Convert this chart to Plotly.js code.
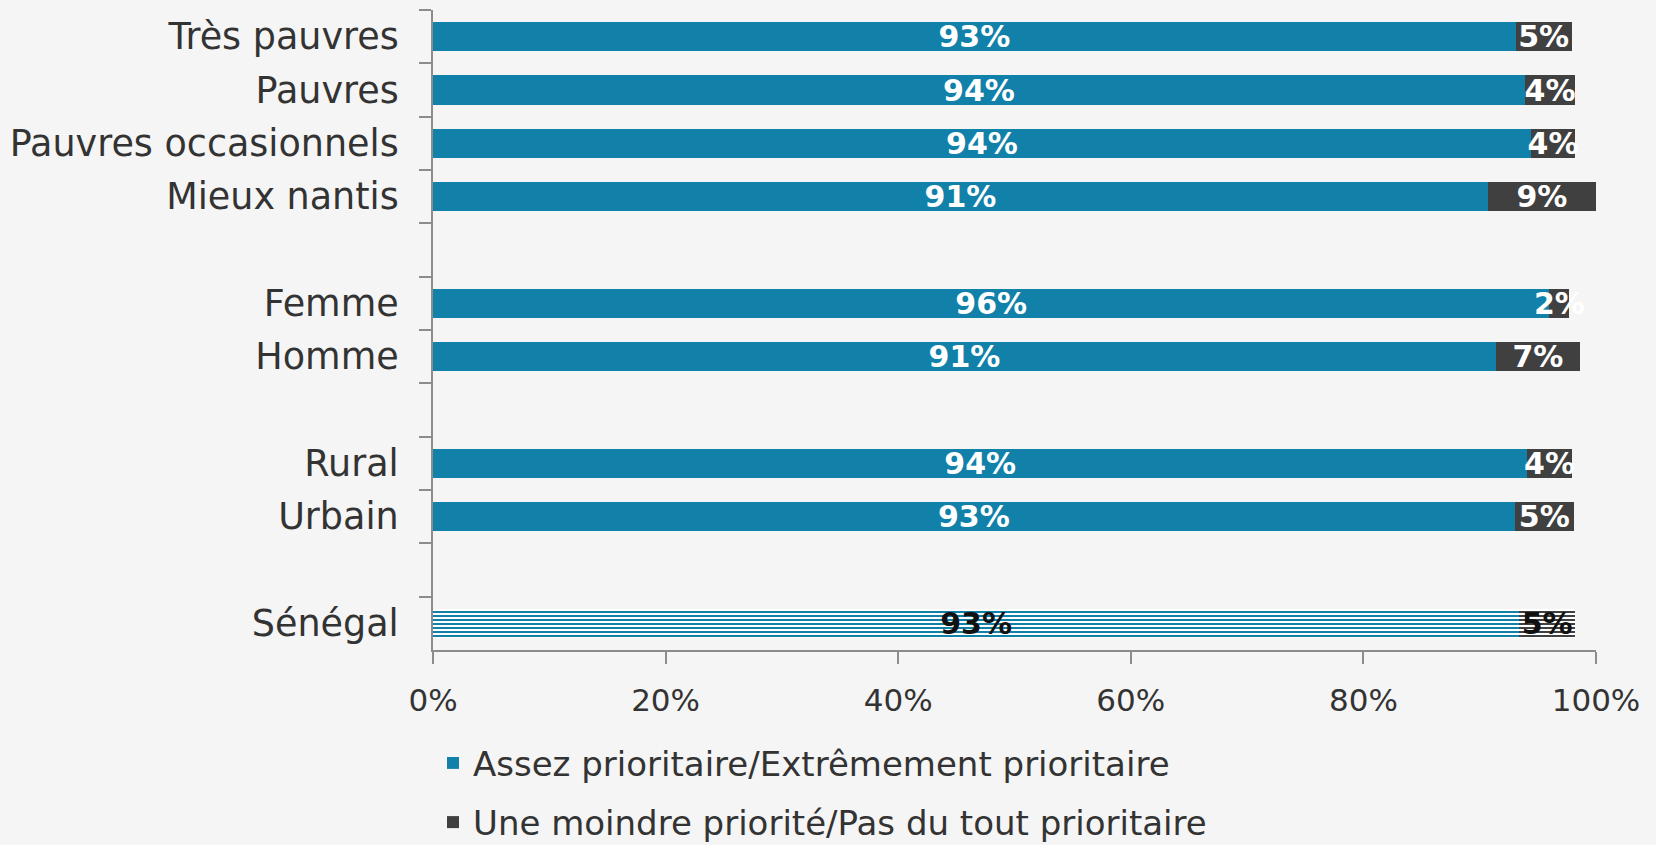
<!DOCTYPE html>
<html>
<head>
<meta charset="utf-8">
<script src="https://cdn.plot.ly/plotly-3.0.1.min.js"></script>
<style>
  html, body { margin: 0; padding: 0; background: #f4f4f4; }
  #chart { width: 1656px; height: 845px; }
</style>
</head>
<body>
<div id="chart"></div>
<script>
// rows from top to bottom, blanks are the gaps between groups
let rowOrder = ["Très pauvres", "Pauvres", "Pauvres occasionnels", "Mieux nantis", " ",
                "Femme", "Homme", "  ", "Rural", "Urbain", "   ", "Sénégal"];

let groups = ["Très pauvres", "Pauvres", "Pauvres occasionnels", "Mieux nantis",
              "Femme", "Homme", "Rural", "Urbain", "Sénégal"];

// values (%)
let prioritaire = [93.1, 93.9, 94.4, 90.7, 96.0, 91.4, 94.1, 93.0, 93.4];
let moindre = [4.8, 4.3, 3.8, 9.3, 1.7, 7.2, 3.8, 5.1, 4.8];

let seriesNames = ["Assez prioritaire/Extrêmement prioritaire",
                   "Une moindre priorité/Pas du tout prioritaire"];

let xTicks = [0, 20, 40, 60, 80, 100];
let xTickLabels = ["0%", "20%", "40%", "60%", "80%", "100%"];

const BLUE = "#1181a9";
const DARK = "#404040";
const FONT = "DejaVu Sans";

// Sénégal bar is drawn with stripes and black labels
let shapes = groups.map(g => g === "Sénégal" ? "-" : "");
let labelColors = groups.map(g => g === "Sénégal" ? "#111" : "white");

function barTrace(name, values, color, group) {
  return {
    type: "bar",
    orientation: "h",
    name: name,
    legendgroup: group,
    y: groups,
    x: values,
    marker: {
      color: color,
      line: {width: 0},
      pattern: {shape: shapes, fgcolor: color, bgcolor: "white",
                fillmode: "replace", size: 4, solidity: 0.5}
    },
    texttemplate: "%{x:.0f}%",
    textposition: "inside",
    insidetextanchor: "middle",
    constraintext: "none",
    textangle: 0,
    cliponaxis: false,
    textfont: {family: FONT, size: 30, color: labelColors, weight: "bold"},
    hoverinfo: "skip"
  };
}

let traces = [
  barTrace(seriesNames[0], prioritaire, BLUE, "a"),
  barTrace(seriesNames[1], moindre, DARK, "b")
];

let layout = {
  width: 1656,
  height: 845,
  paper_bgcolor: "#f5f5f5",
  plot_bgcolor: "rgba(0,0,0,0)",
  margin: {l: 433, r: 60, t: 10, b: 195},
  barmode: "stack",
  bargap: 0.45,
  showlegend: true,
  font: {family: FONT, color: "#333"},
  xaxis: {
    range: [0, 100],
    tickvals: xTicks,
    ticktext: xTickLabels,
    ticks: "outside",
    ticklen: 12,
    tickwidth: 2,
    tickcolor: "#8c8c8c",
    ticklabelstandoff: 10,
    showline: true,
    linecolor: "#8c8c8c",
    linewidth: 2,
    showgrid: false,
    zeroline: false,
    automargin: false,
    tickfont: {size: 31, color: "#333"}
  },
  yaxis: {
    type: "category",
    categoryorder: "array",
    categoryarray: rowOrder,
    autorange: "reversed",
    tickson: "boundaries",
    ticks: "outside",
    ticklen: 12,
    tickwidth: 2,
    tickcolor: "#8c8c8c",
    showline: true,
    linecolor: "#8c8c8c",
    linewidth: 2,
    showgrid: false,
    zeroline: false,
    automargin: false,
    ticklabelstandoff: 25,
    tickfont: {size: 36.5, color: "#333"}
  },
  legend: {
    orientation: "v",
    x: 0,
    xanchor: "left",
    yref: "container",
    y: 0.131,
    yanchor: "top",
    traceorder: "grouped",
    tracegroupgap: 12,
    bgcolor: "rgba(0,0,0,0)",
    font: {size: 34, color: "#333"}
  }
};

Plotly.newPlot("chart", traces, layout, {displayModeBar: false, staticPlot: true});
</script>
</body>
</html>
